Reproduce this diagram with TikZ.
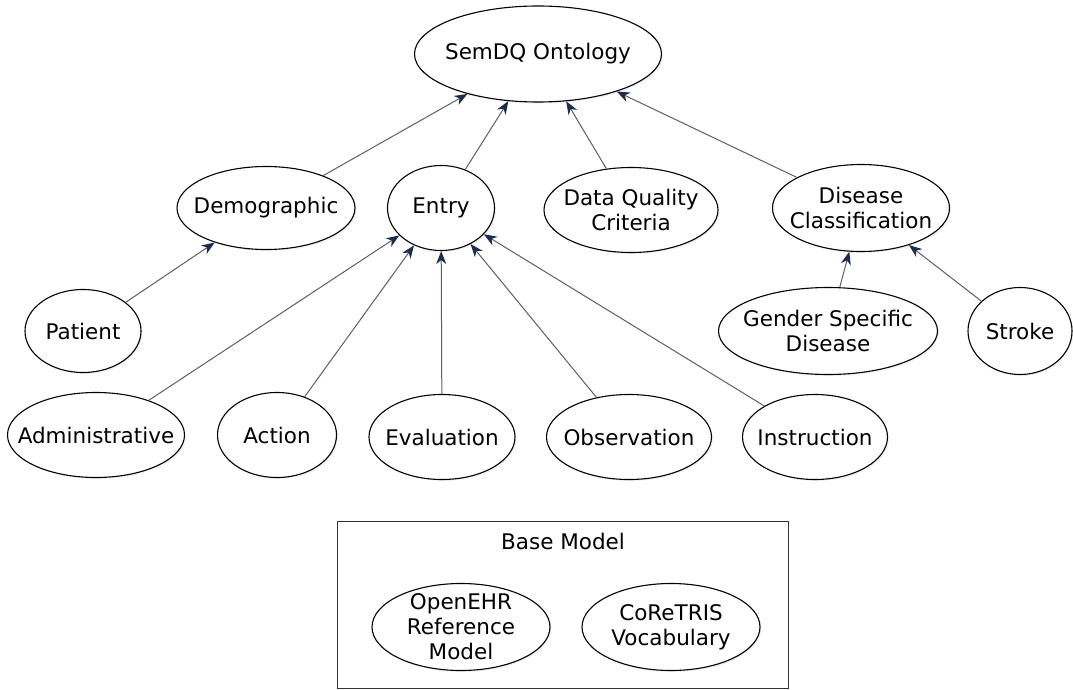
\documentclass[tikz,border=0pt]{standalone}
\usepackage{fontspec}
\setmainfont{DejaVu Sans}
\usetikzlibrary{shapes.geometric,arrows.meta,shadows}
\definecolor{linkgray}{HTML}{5A5F66}
\definecolor{tipnavy}{HTML}{1E2D4C}
\tikzset{
  ctext/.style={align=center, inner sep=0pt, font=\fontsize{21.5}{25}\selectfont},
  concept/.style={ellipse, draw=black, line width=1.1pt, fill=white, inner sep=0pt,
    drop shadow={opacity=0.12, shadow xshift=1.5pt, shadow yshift=-1.5pt},
    label={[ctext]center:#1}},
  isa/.style={draw=linkgray, line width=1pt,
    -{Stealth[length=13pt, width=10pt, inset=4pt, color=tipnavy]}},
  frame/.style={draw=black!80, line width=1pt},
}
\begin{document}
\begin{tikzpicture}[x=1pt,y=-1pt]
\useasboundingbox (0,0) rectangle (1073,690);

% top-level ontology
\node[concept={SemDQ Ontology}, minimum width=247pt, minimum height=96pt] (onto) at (538,54) {};

% second level
\node[concept={Demographic}, minimum width=178pt, minimum height=83pt] (demo) at (266,208) {};
\node[concept={Entry}, minimum width=107pt, minimum height=85pt] (entry) at (441,208) {};
\node[concept={Data Quality\\Criteria}, minimum width=174pt, minimum height=85pt] (dqc) at (631,210) {};
\node[concept={Disease\\Classification}, minimum width=177pt, minimum height=87pt] (dis) at (861,208) {};

% third level
\node[concept={Patient}, minimum width=116pt, minimum height=83pt] (pat) at (83,331) {};
\node[concept={Gender Specific\\Disease}, minimum width=219pt, minimum height=87pt] (gsd) at (828,331) {};
\node[concept={Stroke}, minimum width=104pt, minimum height=87pt] (stroke) at (1020,331) {};

% entry types
\node[concept={Administrative}, minimum width=177pt, minimum height=85pt] (adm) at (96,435) {};
\node[concept={Action}, minimum width=119pt, minimum height=85pt] (act) at (277,435) {};
\node[concept={Evaluation}, minimum width=146pt, minimum height=85pt] (eval) at (442,437) {};
\node[concept={Observation}, minimum width=165pt, minimum height=85pt] (obs) at (629,437) {};
\node[concept={Instruction}, minimum width=145pt, minimum height=85pt] (ins) at (815,437) {};

% base model
\node[frame, minimum width=451pt, minimum height=167pt, inner sep=0pt] (base) at (562.5,604.5) {};
\node[ctext] (basetitle) at (563,541) {Base Model};
\node[concept={OpenEHR\\Reference\\Model}, minimum width=178pt, minimum height=87pt] (ehr) at (461,627) {};
\node[concept={CoReTRIS\\Vocabulary}, minimum width=178pt, minimum height=87pt] (voc) at (671,627) {};

% subclass links
\draw[isa] (demo) -- (onto);
\draw[isa] (entry) -- (onto);
\draw[isa] (dqc) -- (onto);
\draw[isa] (dis) -- (onto);
\draw[isa] (pat) -- (demo);
\draw[isa] (adm) -- (entry);
\draw[isa] (act) -- (entry);
\draw[isa] (eval) -- (entry);
\draw[isa] (obs) -- (entry);
\draw[isa] (ins) -- (entry);
\draw[isa] (gsd) -- (dis);
\draw[isa] (stroke) -- (dis);
\end{tikzpicture}
\end{document}
